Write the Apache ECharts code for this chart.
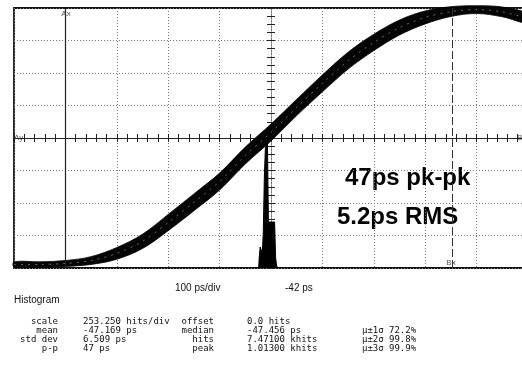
<!DOCTYPE html>
<html>
<head>
<meta charset="utf-8">
<script src="https://cdn.jsdelivr.net/npm/echarts@6/dist/echarts.min.js"></script>
<style>
  html, body { margin: 0; padding: 0; background: #fff; }
  #chart { width: 522px; height: 365px; }
</style>
</head>
<body>
<div id="chart"></div>
<script>
// screen centre sits at -42 ps, 100 ps/div, 10 divisions across
const centrePs = -42
// trace samples, time relative to screen centre (ps)
const traceTimePs = [-500, -450, -400, -350, -300, -250, -200, -150, -100, -50, 0, 50, 100, 150, 200, 250, 300, 350, 400, 450, 500]
// centre of the jitter band, in divisions (0 = centre line)
const traceCentre = [-3.89, -3.89, -3.86, -3.77, -3.55, -3.18, -2.60, -1.98, -1.34, -0.54, 0.17, 0.94, 1.68, 2.38, 2.94, 3.40, 3.71, 3.89, 3.95, 3.88, 3.68]
// half height of the band, in divisions
const traceHalf = [0.08, 0.08, 0.09, 0.12, 0.18, 0.22, 0.25, 0.26, 0.26, 0.26, 0.26, 0.25, 0.26, 0.26, 0.25, 0.23, 0.2, 0.15, 0.12, 0.15, 0.14]

// histogram bins (absolute ps) and hits
const histBinPs = [-66, -64, -62, -60, -58, -56, -54, -52, -50, -48, -46, -44, -42, -40, -38, -36, -34, -32, -30, -28]
const histHits = [0, 78, 164, 140, 109, 280, 700, 930, 960, 1013, 358, 358, 366, 358, 350, 358, 343, 78, 16, 0]

// cursors (absolute ps)
const cursorAx = -442
const cursorBx = 310

// read-out table
const statRows = [
  ['scale', '253.250 hits/div', 'offset', '0.0 hits', '', ''],
  ['mean', '-47.169 ps', 'median', '-47.456 ps', 'μ±1σ', '72.2%'],
  ['std dev', '6.509 ps', 'hits', '7.47100 khits', 'μ±2σ', '99.8%'],
  ['p-p', '47 ps', 'peak', '1.01300 khits', 'μ±3σ', '99.9%']
]
const hitsPerDiv = 253.25

const chart = echarts.init(document.getElementById('chart'), null, { renderer: 'canvas' })

const upperEdge = traceTimePs.map((t, i) => [t, traceCentre[i] + traceHalf[i]])
const lowerEdge = traceTimePs.map((t, i) => [t, traceCentre[i] - traceHalf[i]])
const centreLine = traceTimePs.map((t, i) => [t, traceCentre[i]])
const histData = histBinPs.map((p, i) => [p - centrePs, histHits[i]])

const monoFont = '9px "DejaVu Sans Mono", monospace'
const sansFont = '10px "Liberation Sans", Arial, sans-serif'
const tinyFont = '8px "Liberation Sans", Arial, sans-serif'
const bigFont = 'bold 24px "Liberation Sans", Arial, sans-serif'

const txt = (text, x, y, align, font, fill) => ({
  type: 'text', x: x, y: y, silent: true,
  style: { text: text, font: font || monoFont, fill: fill || '#111', align: align || 'left', verticalAlign: 'middle' }
})

const rowY = [322, 331, 340, 349]
const tableTexts = []
statRows.forEach((r, i) => {
  tableTexts.push(txt(r[0], 58, rowY[i], 'right'))
  tableTexts.push(txt(r[1], 83, rowY[i]))
  tableTexts.push(txt(r[2], 214, rowY[i], 'right'))
  tableTexts.push(txt(r[3], 247, rowY[i]))
  if (r[4]) {
    tableTexts.push(txt(r[4], 362, rowY[i]))
    tableTexts.push(txt(r[5], 389, rowY[i]))
  }
})

const dotted = { color: '#777', width: 1, type: [1, 2] }
const tickStyle = { color: '#222', width: 1 }

chart.setOption({
  animation: false,
  backgroundColor: '#fff',
  grid: {
    // 10 divisions of ~51.4px; the right edge runs past the window
    left: 14, top: 8, width: 514, height: 260,
    outerBoundsMode: 'none',
    show: true, borderColor: '#111', borderWidth: 1.8, backgroundColor: 'transparent'
  },
  xAxis: [
    {
      type: 'value', min: -500, max: 500, interval: 100, position: 'bottom',
      axisLine: { onZero: true, onZeroAxisIndex: 0, lineStyle: { color: '#222', width: 1 } },
      axisTick: { show: true, inside: true, length: 4, lineStyle: tickStyle },
      minorTick: { show: true, splitNumber: 5, length: 4, lineStyle: tickStyle },
      axisLabel: { show: false },
      splitLine: { show: true, lineStyle: dotted }
    },
    {
      type: 'value', min: -500, max: 500, interval: 100, position: 'top',
      axisLine: { onZero: true, onZeroAxisIndex: 0, lineStyle: { color: '#222', width: 1 } },
      axisTick: { show: true, inside: true, length: 4, lineStyle: tickStyle },
      minorTick: { show: true, splitNumber: 5, length: 4, lineStyle: tickStyle },
      axisLabel: { show: false },
      splitLine: { show: false }
    }
  ],
  yAxis: [
    {
      type: 'value', min: -4, max: 4, interval: 1, position: 'left',
      axisLine: { show: true, onZero: true, onZeroAxisIndex: 0, lineStyle: dotted },
      axisTick: { show: true, inside: true, length: 4, lineStyle: tickStyle },
      minorTick: { show: true, splitNumber: 4, length: 4, lineStyle: tickStyle },
      axisLabel: { show: false },
      splitLine: { show: true, lineStyle: dotted }
    },
    {
      type: 'value', min: 0, max: hitsPerDiv * 8, interval: hitsPerDiv, position: 'right',
      axisLine: { show: true, onZero: true, onZeroAxisIndex: 0, lineStyle: dotted },
      axisTick: { show: true, inside: true, length: 4, lineStyle: tickStyle },
      minorTick: { show: true, splitNumber: 4, length: 4, lineStyle: tickStyle },
      axisLabel: { show: false },
      splitLine: { show: false }
    }
  ],
  series: [
    {
      // jitter band: polygon between upper and lower edges, mapped through the axes
      name: 'band', type: 'custom', xAxisIndex: 0, yAxisIndex: 0,
      data: [[0, 0]],
      renderItem: (params, api) => {
        const pts = upperEdge.map(p => api.coord(p))
          .concat(lowerEdge.slice().reverse().map(p => api.coord(p)))
        return {
          type: 'polygon',
          shape: { points: pts, smooth: 0.35 },
          style: { fill: '#050505', stroke: '#000', lineWidth: 0.8 }
        }
      },
      markLine: {
        silent: true, symbol: 'none', label: { show: false },
        data: [
          { xAxis: cursorAx - centrePs, lineStyle: { color: '#222', width: 1.2, type: 'solid' } },
          { xAxis: cursorBx - centrePs, lineStyle: { color: '#333', width: 1, type: [8, 3] } }
        ]
      },
      z: 3
    },
    {
      name: 'streaks', type: 'line', data: centreLine,
      symbol: 'none', smooth: 0.3,
      lineStyle: { color: '#fff', width: 1, type: [2, 5], opacity: 0.4 },
      z: 4
    },
    {
      name: 'histogram', type: 'line', xAxisIndex: 0, yAxisIndex: 1, data: histData,
      symbol: 'none', step: 'middle',
      lineStyle: { color: '#000', width: 1 },
      areaStyle: { color: '#000', opacity: 1 },
      z: 5
    }
  ],
  graphic: [
    txt('Ax', 66, 14, 'center', tinyFont, '#555'),
    txt('Ay', 14, 138, 'left', tinyFont, '#555'),
    txt('By', 517, 138, 'left', tinyFont, '#555'),
    txt('Bx', 451, 263, 'center', tinyFont, '#555'),
    txt('47ps pk-pk', 345, 178, 'left', bigFont, '#000'),
    txt('5.2ps RMS', 337, 217, 'left', bigFont, '#000'),
    txt('100 ps/div', 175, 288, 'left', sansFont),
    txt('-42 ps', 285, 288, 'left', sansFont),
    txt('Histogram', 14, 300, 'left', sansFont)
  ].concat(tableTexts)
})
</script>
</body>
</html>
